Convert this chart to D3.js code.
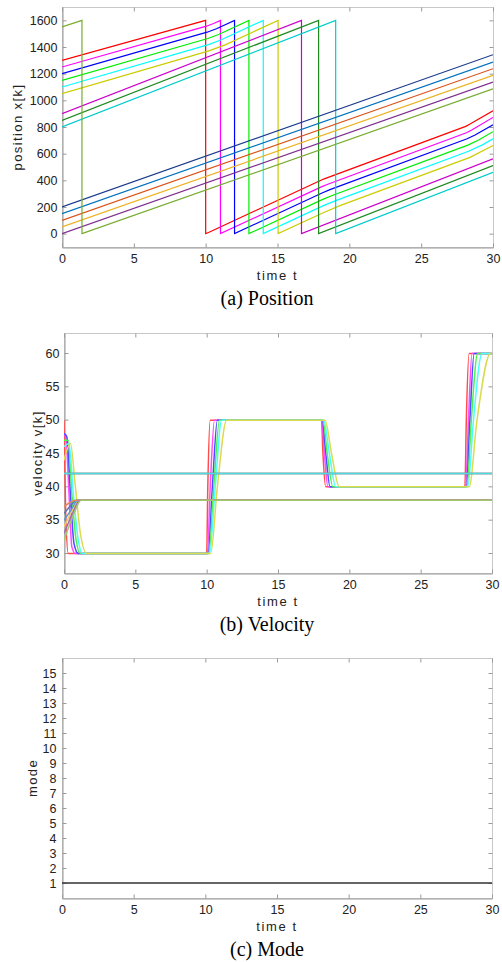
<!DOCTYPE html>
<html>
<head>
<meta charset="utf-8">
<script src="https://cdn.jsdelivr.net/npm/d3@7"></script>
<style>
  body { margin: 0; background: #fff; }
  svg { display: block; }
</style>
</head>
<body>
<div id="chart"></div>
<script>
// tick labels
const timeTicks = [0, 5, 10, 15, 20, 25, 30];
const positionTicks = [0, 200, 400, 600, 800, 1000, 1200, 1400, 1600];
const velocityTicks = [30, 35, 40, 45, 50, 55, 60];
const modeTicks = [1, 2, 3, 4, 5, 6, 7, 8, 9, 10, 11, 12, 13, 14, 15];

// one colour per vehicle, drawing order
const vehicleColors = [
  "#ff0000", "#ff00ff", "#0000ff", "#00ee00", "#00ffff", "#cccc00",
  "#cc00cc", "#1f8a1f", "#00cccc",
  "#1a3a8c", "#0072bd", "#d95319", "#edb120", "#7e2f8e", "#77ac30"
];

// position x[k] as [t, x] breakpoints (wrap at 1600 -> 0)
const posRed     = [[0,1300],[10,1600],[10,0],[10.2,9],[18.1,404],[18.3,413],[28.1,805],[28.4,822],[30,922]];
const posMagenta = [[0,1250],[10.05,1556],[10.55,1576],[11.03,1600],[11.03,0],[18.05,351],[18.5,371],[28.15,757],[28.55,779],[30,872]];
const posBlue    = [[0,1200],[10.1,1511],[10.75,1537],[12.01,1600],[12.01,0],[18.1,305],[18.65,330],[28.2,712],[28.75,740],[30,816]];
const posGreen   = [[0,1150],[10.15,1464],[10.9,1494],[13.01,1600],[13.01,0],[18.15,257],[18.85,288],[28.25,664],[29,702],[30,765]];
const posCyan    = [[0,1100],[10.2,1418],[11.05,1452],[14.01,1600],[14.01,0],[18.2,210],[19.05,248],[28.3,618],[29.3,668],[30,711]];
const posYellow  = [[0,1050],[10.28,1373],[11.4,1418],[15.04,1600],[15.04,0],[18.3,163],[19.3,208],[28.4,572],[29.9,655],[30,661]];
const posPurple  = [[0,900],[16.67,1600],[16.67,0],[30,561]];
const posDkGreen = [[0,850],[17.86,1600],[17.86,0],[30,511]];
const posCyan2   = [[0,800],[19.05,1600],[19.05,0],[30,460]];
const posNavy    = [[0,200],[30,1342]];
const posBlue2   = [[0,150],[30,1287]];
const posOrange  = [[0,100],[30,1237]];
const posYellow2 = [[0,50],[30,1187]];
const posPurple2 = [[0,0],[30,1137]];
const posOlive   = [[0,1550],[1.39,1600],[1.39,0],[30,1086]];

// velocity v[k] as [t, v] points
const velRed     = [[0,50],[0.05,44],[0.12,36],[0.3,30],[10,30],[10.08,40],[10.25,50],[18.05,50],[18.15,45],[18.35,40],[28.1,40],[28.2,50],[28.4,60],[30,60]];
const velMagenta = [[0,48],[0.15,47],[0.35,39],[0.55,31],[0.8,30],[10.05,30],[10.25,40],[10.55,50],[18.05,50],[18.25,45],[18.5,40],[28.15,40],[28.35,50],[28.6,60],[30,60]];
const velBlue    = [[0,48],[0.2,47.5],[0.45,39],[0.7,31.5],[1.0,30],[10.1,30],[10.4,40],[10.75,50],[18.1,50],[18.35,45],[18.65,40],[28.2,40],[28.45,50],[28.75,60],[30,60]];
const velGreen   = [[0,47],[0.3,47],[0.55,39],[0.85,32],[1.15,30],[10.15,30],[10.5,40],[10.9,50],[18.15,50],[18.45,45],[18.85,40],[28.25,40],[28.55,50],[29,60],[30,60]];
const velCyan    = [[0,46],[0.35,46.5],[0.65,39],[1.0,32],[1.3,30],[10.2,30],[10.6,40],[11.05,50],[18.2,50],[18.6,45],[19.05,40],[28.3,40],[28.7,50],[29.3,60],[30,60]];
const velYellow  = [[0,44],[0.45,46.5],[0.8,40],[1.15,33],[1.6,30],[10.28,30],[10.75,40],[11.4,50],[18.3,50],[18.75,45],[19.3,40],[28.4,40],[28.95,50],[29.9,60],[30,60]];
const velPurple  = [[0,42],[30,42]];
const velDkGreen = [[0,42],[30,42]];
const velCyan2   = [[0,42],[30,42]];
const velNavy    = [[0,36],[0.4,37],[0.9,38],[30,38]];
const velBlue2   = [[0,35],[0.5,36.5],[1.0,38],[30,38]];
const velOrange  = [[0,37],[0.3,37.5],[0.8,38],[30,38]];
const velYellow2 = [[0,34],[0.6,36.5],[1.1,38],[30,38]];
const velPurple2 = [[0,33],[0.6,36],[1.1,38],[30,38]];
const velOlive   = [[0,32],[0.7,36],[1.2,38],[30,38]];

// mode
const modeLine = [[0,1],[30,1]];

const positionSeries = [posRed, posMagenta, posBlue, posGreen, posCyan, posYellow,
  posPurple, posDkGreen, posCyan2, posNavy, posBlue2, posOrange, posYellow2, posPurple2, posOlive];
const velocitySeries = [velRed, velMagenta, velBlue, velGreen, velCyan, velYellow,
  velPurple, velDkGreen, velCyan2, velNavy, velBlue2, velOrange, velYellow2, velPurple2, velOlive];

const svg = d3.select("#chart").append("svg")
  .attr("width", 502)
  .attr("height", 962)
  .style("background", "#fff");

const axisColor = "#9a9a9a";
const textColor = "#222";
const sans = "'Liberation Sans', Arial, sans-serif";

// thin velocity traces look paler in the original
const paler = c => d3.interpolateRgb(c, "#ffffff")(0.3);

function drawPanel(p) {
  const x = d3.scaleLinear().domain([0, 30]).range([p.left, p.right]);
  const y = d3.scaleLinear().domain(p.yDomain).range([p.bottom, p.top]);

  const clipId = "clip-" + p.id;
  svg.append("clipPath").attr("id", clipId)
    .append("rect")
    .attr("x", p.left).attr("y", p.top)
    .attr("width", p.right - p.left).attr("height", p.bottom - p.top);

  // box
  svg.append("rect")
    .attr("x", p.left + 0.5).attr("y", p.top + 0.5)
    .attr("width", p.right - p.left).attr("height", p.bottom - p.top)
    .attr("fill", "none")
    .attr("stroke", "#c8c8c8");

  // axes, ticks inside
  const styleAxis = g => {
    g.select(".domain").attr("stroke", axisColor);
    g.selectAll(".tick line").attr("stroke", axisColor);
    g.selectAll(".tick text")
      .attr("fill", textColor)
      .style("font-family", sans)
      .style("font-size", "12.5px");
  };

  svg.append("g")
    .attr("transform", `translate(0,${p.bottom + 0.5})`)
    .call(d3.axisBottom(x).tickValues(timeTicks).tickFormat(d3.format("d"))
      .tickSize(-4).tickSizeOuter(0).tickPadding(7))
    .call(styleAxis);

  svg.append("g")
    .attr("transform", `translate(0,${p.top + 0.5})`)
    .call(d3.axisTop(x).tickValues(timeTicks).tickSize(-4).tickSizeOuter(0).tickFormat(""))
    .call(g => g.select(".domain").remove())
    .call(g => g.selectAll(".tick line").attr("stroke", axisColor));

  svg.append("g")
    .attr("transform", `translate(${p.left + 0.5},0)`)
    .call(d3.axisLeft(y).tickValues(p.yTicks).tickFormat(d3.format("d"))
      .tickSize(-4).tickSizeOuter(0).tickPadding(p.yPad))
    .call(styleAxis);

  svg.append("g")
    .attr("transform", `translate(${p.right + 0.5},0)`)
    .call(d3.axisRight(y).tickValues(p.yTicks).tickSize(-4).tickSizeOuter(0).tickFormat(""))
    .call(g => g.select(".domain").remove())
    .call(g => g.selectAll(".tick line").attr("stroke", axisColor));

  // series
  const line = d3.line()
    .x(d => x(d[0]))
    .y(d => y(d[1]))
    .curve(p.curve);

  svg.append("g")
    .attr("clip-path", `url(#${clipId})`)
    .selectAll("path")
    .data(p.series)
    .enter().append("path")
    .attr("transform", `translate(0,${p.yShift})`)
    .attr("d", line)
    .attr("fill", "none")
    .attr("stroke", (d, i) => p.tint(p.colors[i]))
    .attr("stroke-width", p.lineWidth);

  // labels
  svg.append("text")
    .attr("x", (p.left + p.right) / 2)
    .attr("y", p.bottom + 33)
    .attr("text-anchor", "middle")
    .attr("fill", textColor)
    .style("font-family", sans)
    .style("font-size", "13px")
    .style("letter-spacing", "1.6px")
    .text("time t");

  svg.append("text")
    .attr("transform", `translate(${p.yLabelX},${(p.top + p.bottom) / 2}) rotate(-90)`)
    .attr("text-anchor", "middle")
    .attr("fill", textColor)
    .style("font-family", sans)
    .style("font-size", "13px")
    .style("letter-spacing", "1.4px")
    .text(p.yLabel);

  svg.append("text")
    .attr("x", 267)
    .attr("y", p.bottom + 58)
    .attr("text-anchor", "middle")
    .attr("fill", "#000")
    .style("font-family", "'Liberation Serif', 'Times New Roman', serif")
    .style("font-size", "20px")
    .text(p.caption);
}

drawPanel({
  id: "pos", left: 62, right: 493, top: 7, bottom: 247,
  yDomain: [-100, 1700], yTicks: positionTicks, yPad: 5,
  series: positionSeries, colors: vehicleColors, tint: c => c, curve: d3.curveLinear,
  lineWidth: 1.2, yShift: 0,
  yLabel: "position x[k]", yLabelX: 22, caption: "(a) Position"
});

drawPanel({
  id: "vel", left: 64, right: 492, top: 333, bottom: 573,
  yDomain: [27, 63], yTicks: velocityTicks, yPad: 5,
  series: velocitySeries, colors: vehicleColors, tint: paler, curve: d3.curveMonotoneX,
  lineWidth: 1.5, yShift: 0.5,
  yLabel: "velocity v[k]", yLabelX: 42, caption: "(b) Velocity"
});

drawPanel({
  id: "mode", left: 62, right: 492, top: 658, bottom: 898,
  yDomain: [0, 16], yTicks: modeTicks, yPad: 6,
  series: [modeLine], colors: ["#333333"], tint: c => c, curve: d3.curveLinear,
  lineWidth: 1.3, yShift: 0,
  yLabel: "mode", yLabelX: 37, caption: "(c) Mode"
});
</script>
</body>
</html>
